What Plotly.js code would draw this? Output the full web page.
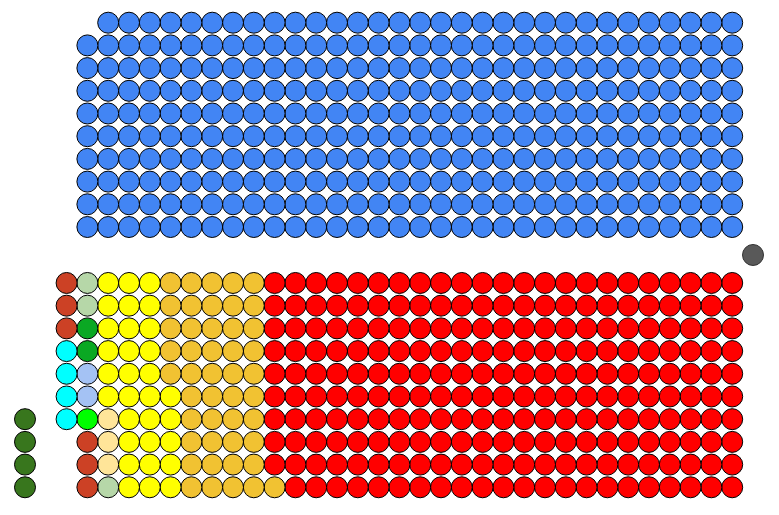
<!DOCTYPE html>
<html>
<head>
<meta charset="utf-8">
<script src="https://cdn.plot.ly/plotly-3.0.1.min.js"></script>
<style>html,body{margin:0;padding:0;background:#fff;}#chart{width:779px;height:515px;}</style>
</head>
<body>
<div id="chart"></div>
<script>
// Upper benches (filled right-to-left, rows from the aisle outward)
const upperParties = ["Blue"];
const upperSeats = [319];
const upperColors = ["#4285f4"];

// Lower benches (filled right-to-left, rows from the aisle outward)
const lowerParties = ["Red", "Gold", "Yellow", "Light yellow", "Light green", "Green", "Light blue", "Bright green", "Red-brown", "Cyan"];
const lowerSeats = [229, 46, 31, 3, 3, 2, 2, 1, 6, 4];
const lowerColors = ["#ff0000", "#f1c232", "#ffff00", "#ffe599", "#b6d7a8", "#0aa823", "#a4c2f4", "#00ff00", "#cc4125", "#00ffff"];

// Cross benches (leftmost column, far rows)
const crossParties = ["Dark green"];
const crossSeats = [4];
const crossColors = ["#38761d"];

// Speaker
const speakerParties = ["Speaker"];
const speakerSeats = [1];
const speakerColors = ["#595959"];

const ROWS = 10, LASTCOL = 34, GAP = 1.233;

function fillBench(parties, seats, colors, side) {
  const traces = [];
  let idx = 0;
  parties.forEach((p, i) => {
    const xs = [], ys = [];
    for (let k = 0; k < seats[i]; k++, idx++) {
      const col = LASTCOL - Math.floor(idx / ROWS);
      const row = idx % ROWS;
      xs.push(col);
      ys.push(side * (GAP + row));
    }
    traces.push({type: "scatter", mode: "markers", name: p, x: xs, y: ys,
      marker: {color: colors[i], size: 21, line: {color: "#000", width: 1}}, hoverinfo: "name"});
  });
  return traces;
}

const traces = [];
traces.push(...fillBench(upperParties, upperSeats, upperColors, 1));
traces.push(...fillBench(lowerParties, lowerSeats, lowerColors, -1));
crossParties.forEach((p, i) => {
  const xs = [], ys = [];
  for (let k = 0; k < crossSeats[i]; k++) {
    xs.push(0);
    ys.push(-(GAP + ROWS - 1 - k));
  }
  traces.push({type: "scatter", mode: "markers", name: p, x: xs, y: ys,
    marker: {color: crossColors[i], size: 21, line: {color: "#000", width: 1}}, hoverinfo: "name"});
});
speakerParties.forEach((p, i) => {
  traces.push({type: "scatter", mode: "markers", name: p, x: [LASTCOL + 1], y: [0],
    marker: {color: speakerColors[i], size: 21, line: {color: "#333", width: 1}}, hoverinfo: "name"});
});

const layout = {
  width: 779, height: 515,
  margin: {l: 0, r: 0, t: 0, b: 0},
  paper_bgcolor: "#fff", plot_bgcolor: "#fff",
  showlegend: false,
  xaxis: {range: [-1.202, 36.25], visible: false, fixedrange: true},
  yaxis: {range: [-11.454, 11.233], visible: false, fixedrange: true}
};
Plotly.newPlot("chart", traces, layout, {staticPlot: true, displayModeBar: false});
</script>
</body>
</html>
